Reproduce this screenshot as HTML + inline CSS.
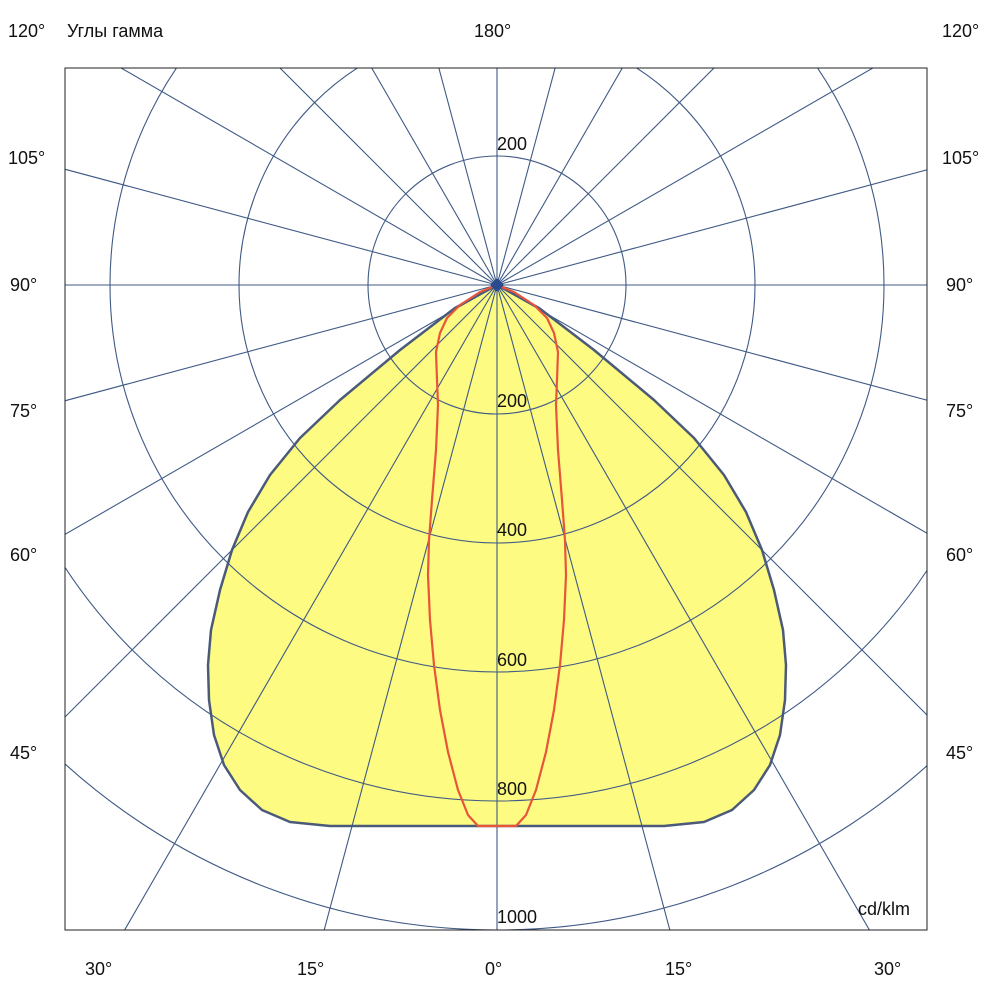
<!DOCTYPE html>
<html><head><meta charset="utf-8"><style>
html,body{margin:0;padding:0;background:#fff;overflow:hidden;}
svg{display:block;}
svg text{font-family:"Liberation Sans","DejaVu Sans",sans-serif;font-size:18px;fill:#111;}
</style></head><body>
<svg width="1000" height="1000" viewBox="0 0 1000 1000" xmlns="http://www.w3.org/2000/svg">
<defs><clipPath id="c"><rect x="65" y="68" width="862" height="862"/></clipPath></defs>
<rect width="1000" height="1000" fill="#fff"/>
<g clip-path="url(#c)">
<path d="M497,285 L455,308 L400,350 L340,400 L300,438 L270,475 L248,512 L232,550 L220,590 L211,630 L208,665 L209,700 L214,735 L224,765 L240,790 L262,810 L290,822 L330,826 L664,826 L704,822 L732,810 L754,790 L770,765 L780,735 L785,700 L786,665 L783,630 L774,590 L762,550 L746,512 L724,475 L694,438 L654,400 L594,350 L539,308 Z" fill="#fdfb82" stroke="#4a5a78" stroke-width="2.5" stroke-linejoin="round"/>
<g fill="none" stroke="#3f5a85" stroke-width="1.1">
<circle cx="497" cy="285" r="129"/>
<circle cx="497" cy="285" r="258"/>
<circle cx="497" cy="285" r="387"/>
<circle cx="497" cy="285" r="516"/>
<circle cx="497" cy="285" r="645"/>
<g id="rays">
<line x1="497" y1="285" x2="497" y2="1500"/>
<line x1="497" y1="285" x2="497" y2="-1000"/>
<line x1="497" y1="285" x2="-700" y2="285"/>
<line x1="497" y1="285" x2="1700" y2="285"/>
</g>
<g transform="rotate(15 497 285)"><use href="#rays"/></g>
<g transform="rotate(30 497 285)"><use href="#rays"/></g>
<g transform="rotate(45 497 285)"><use href="#rays"/></g>
<g transform="rotate(60 497 285)"><use href="#rays"/></g>
<g transform="rotate(75 497 285)"><use href="#rays"/></g>
</g>
<path d="M497,285 L480,292 L460,305 L447,318 L440,333 L436,352 L437,380 L438,405 L436,450 L432,500 L429,540 L428,575 L430,620 L434,665 L440,710 L448,752 L458,790 L468,815 L478,826 L516,826 L526,815 L536,790 L546,752 L554,710 L560,665 L564,620 L566,575 L565,540 L562,500 L558,450 L556,405 L557,380 L558,352 L554,333 L547,318 L534,305 L514,292 Z" fill="none" stroke="#e8553a" stroke-width="2.2" stroke-linejoin="round"/>
<path d="M497,278 L504,285 L497,292 L490,285 Z" fill="#2c4a90"/>
</g>
<rect x="65" y="68" width="862" height="862" fill="none" stroke="#222" stroke-width="1"/>
<text x="497" y="150">200</text>
<text x="497" y="407">200</text>
<text x="497" y="536">400</text>
<text x="497" y="666">600</text>
<text x="497" y="795">800</text>
<text x="497" y="923">1000</text>
<text x="858" y="915">cd/klm</text>
<text x="8" y="37">120°</text>
<text x="67" y="37">Углы гамма</text>
<text x="474" y="37">180°</text>
<text x="942" y="37">120°</text>
<text x="8" y="164">105°</text><text x="942" y="164">105°</text>
<text x="10" y="291">90°</text><text x="946" y="291">90°</text>
<text x="10" y="417">75°</text><text x="946" y="417">75°</text>
<text x="10" y="561">60°</text><text x="946" y="561">60°</text>
<text x="10" y="759">45°</text><text x="946" y="759">45°</text>
<text x="85" y="975">30°</text>
<text x="297" y="975">15°</text>
<text x="485" y="975">0°</text>
<text x="665" y="975">15°</text>
<text x="874" y="975">30°</text>
</svg>
</body></html>
